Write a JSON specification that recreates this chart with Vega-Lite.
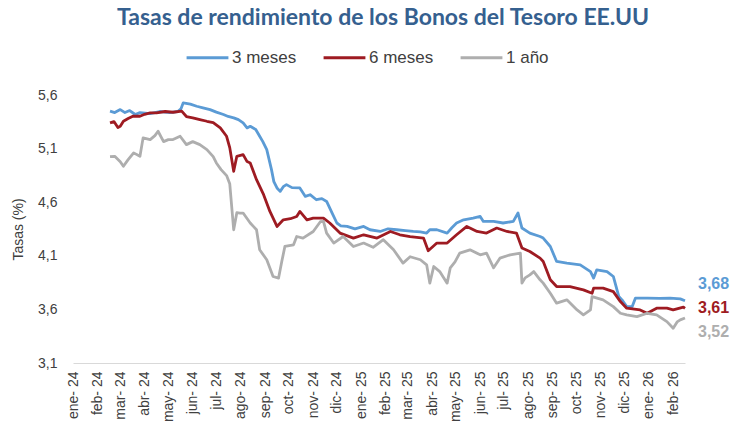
{
  "$schema": "https://vega.github.io/schema/vega-lite/v6.json",
  "width": 612,
  "height": 268,
  "autosize": {"type": "none"},
  "padding": {"left": 73, "top": 95, "right": 47, "bottom": 70},
  "background": "white",
  "title": {
    "text": "Tasas de rendimiento de los Bonos del Tesoro EE.UU",
    "font": "Lato",
    "fontSize": 23,
    "fontWeight": "bold",
    "color": "#35608F",
    "anchor": "middle",
    "frame": "group",
    "offset": 5,
    "dx": 4
  },
  "config": {
    "view": {"stroke": null},
    "font": "Liberation Sans"
  },
  "datasets": {
    "tasas": [
      {"f": "2024-02-17", "s": "3 meses", "v": 5.449},
      {"f": "2024-02-23", "s": "3 meses", "v": 5.436},
      {"f": "2024-03-01", "s": "3 meses", "v": 5.464},
      {"f": "2024-03-07", "s": "3 meses", "v": 5.436},
      {"f": "2024-03-13", "s": "3 meses", "v": 5.455},
      {"f": "2024-03-20", "s": "3 meses", "v": 5.418},
      {"f": "2024-03-26", "s": "3 meses", "v": 5.436},
      {"f": "2024-04-08", "s": "3 meses", "v": 5.427},
      {"f": "2024-04-20", "s": "3 meses", "v": 5.446},
      {"f": "2024-05-03", "s": "3 meses", "v": 5.436},
      {"f": "2024-05-13", "s": "3 meses", "v": 5.446},
      {"f": "2024-05-17", "s": "3 meses", "v": 5.470},
      {"f": "2024-05-20", "s": "3 meses", "v": 5.527},
      {"f": "2024-05-29", "s": "3 meses", "v": 5.515},
      {"f": "2024-06-06", "s": "3 meses", "v": 5.495},
      {"f": "2024-06-14", "s": "3 meses", "v": 5.480},
      {"f": "2024-06-23", "s": "3 meses", "v": 5.464},
      {"f": "2024-07-01", "s": "3 meses", "v": 5.440},
      {"f": "2024-07-10", "s": "3 meses", "v": 5.418},
      {"f": "2024-07-16", "s": "3 meses", "v": 5.400},
      {"f": "2024-07-23", "s": "3 meses", "v": 5.387},
      {"f": "2024-07-29", "s": "3 meses", "v": 5.370},
      {"f": "2024-08-04", "s": "3 meses", "v": 5.340},
      {"f": "2024-08-09", "s": "3 meses", "v": 5.293},
      {"f": "2024-08-13", "s": "3 meses", "v": 5.308},
      {"f": "2024-08-20", "s": "3 meses", "v": 5.278},
      {"f": "2024-08-25", "s": "3 meses", "v": 5.215},
      {"f": "2024-08-29", "s": "3 meses", "v": 5.165},
      {"f": "2024-09-03", "s": "3 meses", "v": 5.091},
      {"f": "2024-09-06", "s": "3 meses", "v": 4.997},
      {"f": "2024-09-09", "s": "3 meses", "v": 4.904},
      {"f": "2024-09-12", "s": "3 meses", "v": 4.792},
      {"f": "2024-09-16", "s": "3 meses", "v": 4.733},
      {"f": "2024-09-20", "s": "3 meses", "v": 4.701},
      {"f": "2024-09-24", "s": "3 meses", "v": 4.745},
      {"f": "2024-09-28", "s": "3 meses", "v": 4.764},
      {"f": "2024-10-05", "s": "3 meses", "v": 4.736},
      {"f": "2024-10-15", "s": "3 meses", "v": 4.733},
      {"f": "2024-10-22", "s": "3 meses", "v": 4.654},
      {"f": "2024-10-28", "s": "3 meses", "v": 4.670},
      {"f": "2024-11-05", "s": "3 meses", "v": 4.623},
      {"f": "2024-11-12", "s": "3 meses", "v": 4.633},
      {"f": "2024-11-18", "s": "3 meses", "v": 4.607},
      {"f": "2024-11-25", "s": "3 meses", "v": 4.499},
      {"f": "2024-12-01", "s": "3 meses", "v": 4.406},
      {"f": "2024-12-06", "s": "3 meses", "v": 4.380},
      {"f": "2024-12-14", "s": "3 meses", "v": 4.374},
      {"f": "2024-12-24", "s": "3 meses", "v": 4.352},
      {"f": "2025-01-04", "s": "3 meses", "v": 4.374},
      {"f": "2025-01-12", "s": "3 meses", "v": 4.343},
      {"f": "2025-01-25", "s": "3 meses", "v": 4.327},
      {"f": "2025-02-04", "s": "3 meses", "v": 4.352},
      {"f": "2025-02-15", "s": "3 meses", "v": 4.343},
      {"f": "2025-02-26", "s": "3 meses", "v": 4.334},
      {"f": "2025-03-08", "s": "3 meses", "v": 4.327},
      {"f": "2025-03-17", "s": "3 meses", "v": 4.324},
      {"f": "2025-03-25", "s": "3 meses", "v": 4.312},
      {"f": "2025-03-29", "s": "3 meses", "v": 4.343},
      {"f": "2025-04-07", "s": "3 meses", "v": 4.343},
      {"f": "2025-04-20", "s": "3 meses", "v": 4.312},
      {"f": "2025-04-26", "s": "3 meses", "v": 4.362},
      {"f": "2025-05-02", "s": "3 meses", "v": 4.406},
      {"f": "2025-05-11", "s": "3 meses", "v": 4.436},
      {"f": "2025-05-23", "s": "3 meses", "v": 4.452},
      {"f": "2025-06-01", "s": "3 meses", "v": 4.467},
      {"f": "2025-06-05", "s": "3 meses", "v": 4.421},
      {"f": "2025-06-18", "s": "3 meses", "v": 4.421},
      {"f": "2025-06-30", "s": "3 meses", "v": 4.406},
      {"f": "2025-07-13", "s": "3 meses", "v": 4.421},
      {"f": "2025-07-19", "s": "3 meses", "v": 4.499},
      {"f": "2025-07-24", "s": "3 meses", "v": 4.359},
      {"f": "2025-08-03", "s": "3 meses", "v": 4.312},
      {"f": "2025-08-16", "s": "3 meses", "v": 4.280},
      {"f": "2025-08-20", "s": "3 meses", "v": 4.265},
      {"f": "2025-08-29", "s": "3 meses", "v": 4.187},
      {"f": "2025-09-06", "s": "3 meses", "v": 4.047},
      {"f": "2025-09-19", "s": "3 meses", "v": 4.032},
      {"f": "2025-10-06", "s": "3 meses", "v": 4.016},
      {"f": "2025-10-19", "s": "3 meses", "v": 3.953},
      {"f": "2025-10-23", "s": "3 meses", "v": 3.892},
      {"f": "2025-10-27", "s": "3 meses", "v": 3.969},
      {"f": "2025-11-09", "s": "3 meses", "v": 3.953},
      {"f": "2025-11-17", "s": "3 meses", "v": 3.907},
      {"f": "2025-11-24", "s": "3 meses", "v": 3.720},
      {"f": "2025-11-28", "s": "3 meses", "v": 3.689},
      {"f": "2025-12-04", "s": "3 meses", "v": 3.626},
      {"f": "2025-12-11", "s": "3 meses", "v": 3.626},
      {"f": "2025-12-15", "s": "3 meses", "v": 3.705},
      {"f": "2025-12-30", "s": "3 meses", "v": 3.705},
      {"f": "2026-01-15", "s": "3 meses", "v": 3.703},
      {"f": "2026-01-28", "s": "3 meses", "v": 3.705},
      {"f": "2026-02-10", "s": "3 meses", "v": 3.698},
      {"f": "2026-02-16", "s": "3 meses", "v": 3.680},

      {"f": "2024-02-17", "s": "6 meses", "v": 5.340},
      {"f": "2024-02-22", "s": "6 meses", "v": 5.352},
      {"f": "2024-02-27", "s": "6 meses", "v": 5.296},
      {"f": "2024-03-01", "s": "6 meses", "v": 5.308},
      {"f": "2024-03-05", "s": "6 meses", "v": 5.355},
      {"f": "2024-03-11", "s": "6 meses", "v": 5.380},
      {"f": "2024-03-17", "s": "6 meses", "v": 5.402},
      {"f": "2024-03-26", "s": "6 meses", "v": 5.402},
      {"f": "2024-04-01", "s": "6 meses", "v": 5.420},
      {"f": "2024-04-08", "s": "6 meses", "v": 5.434},
      {"f": "2024-04-16", "s": "6 meses", "v": 5.434},
      {"f": "2024-04-27", "s": "6 meses", "v": 5.446},
      {"f": "2024-05-07", "s": "6 meses", "v": 5.439},
      {"f": "2024-05-18", "s": "6 meses", "v": 5.449},
      {"f": "2024-05-24", "s": "6 meses", "v": 5.399},
      {"f": "2024-06-01", "s": "6 meses", "v": 5.387},
      {"f": "2024-06-10", "s": "6 meses", "v": 5.371},
      {"f": "2024-06-19", "s": "6 meses", "v": 5.355},
      {"f": "2024-06-27", "s": "6 meses", "v": 5.343},
      {"f": "2024-07-06", "s": "6 meses", "v": 5.293},
      {"f": "2024-07-14", "s": "6 meses", "v": 5.215},
      {"f": "2024-07-18", "s": "6 meses", "v": 5.109},
      {"f": "2024-07-23", "s": "6 meses", "v": 4.888},
      {"f": "2024-07-27", "s": "6 meses", "v": 5.028},
      {"f": "2024-08-04", "s": "6 meses", "v": 5.044},
      {"f": "2024-08-09", "s": "6 meses", "v": 4.979},
      {"f": "2024-08-13", "s": "6 meses", "v": 4.966},
      {"f": "2024-08-21", "s": "6 meses", "v": 4.810},
      {"f": "2024-08-30", "s": "6 meses", "v": 4.670},
      {"f": "2024-09-07", "s": "6 meses", "v": 4.514},
      {"f": "2024-09-16", "s": "6 meses", "v": 4.374},
      {"f": "2024-09-24", "s": "6 meses", "v": 4.436},
      {"f": "2024-10-03", "s": "6 meses", "v": 4.446},
      {"f": "2024-10-11", "s": "6 meses", "v": 4.467},
      {"f": "2024-10-15", "s": "6 meses", "v": 4.514},
      {"f": "2024-10-24", "s": "6 meses", "v": 4.436},
      {"f": "2024-11-01", "s": "6 meses", "v": 4.452},
      {"f": "2024-11-14", "s": "6 meses", "v": 4.452},
      {"f": "2024-11-22", "s": "6 meses", "v": 4.406},
      {"f": "2024-12-05", "s": "6 meses", "v": 4.312},
      {"f": "2024-12-22", "s": "6 meses", "v": 4.265},
      {"f": "2025-01-04", "s": "6 meses", "v": 4.296},
      {"f": "2025-01-21", "s": "6 meses", "v": 4.265},
      {"f": "2025-02-07", "s": "6 meses", "v": 4.327},
      {"f": "2025-02-19", "s": "6 meses", "v": 4.296},
      {"f": "2025-03-04", "s": "6 meses", "v": 4.278},
      {"f": "2025-03-21", "s": "6 meses", "v": 4.265},
      {"f": "2025-03-27", "s": "6 meses", "v": 4.147},
      {"f": "2025-04-07", "s": "6 meses", "v": 4.219},
      {"f": "2025-04-20", "s": "6 meses", "v": 4.219},
      {"f": "2025-05-02", "s": "6 meses", "v": 4.296},
      {"f": "2025-05-15", "s": "6 meses", "v": 4.374},
      {"f": "2025-05-28", "s": "6 meses", "v": 4.327},
      {"f": "2025-06-09", "s": "6 meses", "v": 4.312},
      {"f": "2025-06-22", "s": "6 meses", "v": 4.359},
      {"f": "2025-07-05", "s": "6 meses", "v": 4.327},
      {"f": "2025-07-17", "s": "6 meses", "v": 4.312},
      {"f": "2025-07-24", "s": "6 meses", "v": 4.172},
      {"f": "2025-08-03", "s": "6 meses", "v": 4.140},
      {"f": "2025-08-16", "s": "6 meses", "v": 4.078},
      {"f": "2025-08-20", "s": "6 meses", "v": 4.047},
      {"f": "2025-08-29", "s": "6 meses", "v": 3.876},
      {"f": "2025-09-06", "s": "6 meses", "v": 3.813},
      {"f": "2025-09-23", "s": "6 meses", "v": 3.813},
      {"f": "2025-10-10", "s": "6 meses", "v": 3.782},
      {"f": "2025-10-21", "s": "6 meses", "v": 3.751},
      {"f": "2025-10-23", "s": "6 meses", "v": 3.798},
      {"f": "2025-11-04", "s": "6 meses", "v": 3.798},
      {"f": "2025-11-17", "s": "6 meses", "v": 3.766},
      {"f": "2025-11-26", "s": "6 meses", "v": 3.673},
      {"f": "2025-12-04", "s": "6 meses", "v": 3.611},
      {"f": "2025-12-21", "s": "6 meses", "v": 3.595},
      {"f": "2025-12-30", "s": "6 meses", "v": 3.564},
      {"f": "2026-01-11", "s": "6 meses", "v": 3.611},
      {"f": "2026-01-24", "s": "6 meses", "v": 3.611},
      {"f": "2026-02-01", "s": "6 meses", "v": 3.595},
      {"f": "2026-02-14", "s": "6 meses", "v": 3.621},
      {"f": "2026-02-16", "s": "6 meses", "v": 3.610},

      {"f": "2024-02-17", "s": "1 año", "v": 5.025},
      {"f": "2024-02-23", "s": "1 año", "v": 5.028},
      {"f": "2024-03-01", "s": "1 año", "v": 4.978},
      {"f": "2024-03-05", "s": "1 año", "v": 4.935},
      {"f": "2024-03-11", "s": "1 año", "v": 4.997},
      {"f": "2024-03-18", "s": "1 año", "v": 5.060},
      {"f": "2024-03-26", "s": "1 año", "v": 5.028},
      {"f": "2024-03-30", "s": "1 año", "v": 5.200},
      {"f": "2024-04-08", "s": "1 año", "v": 5.184},
      {"f": "2024-04-14", "s": "1 año", "v": 5.221},
      {"f": "2024-04-18", "s": "1 año", "v": 5.262},
      {"f": "2024-04-25", "s": "1 año", "v": 5.165},
      {"f": "2024-05-01", "s": "1 año", "v": 5.184},
      {"f": "2024-05-07", "s": "1 año", "v": 5.184},
      {"f": "2024-05-16", "s": "1 año", "v": 5.215},
      {"f": "2024-05-24", "s": "1 año", "v": 5.137},
      {"f": "2024-06-01", "s": "1 año", "v": 5.165},
      {"f": "2024-06-10", "s": "1 año", "v": 5.137},
      {"f": "2024-06-19", "s": "1 año", "v": 5.091},
      {"f": "2024-06-27", "s": "1 año", "v": 5.025},
      {"f": "2024-07-01", "s": "1 año", "v": 4.966},
      {"f": "2024-07-07", "s": "1 año", "v": 4.904},
      {"f": "2024-07-14", "s": "1 año", "v": 4.848},
      {"f": "2024-07-18", "s": "1 año", "v": 4.773},
      {"f": "2024-07-23", "s": "1 año", "v": 4.343},
      {"f": "2024-07-27", "s": "1 año", "v": 4.502},
      {"f": "2024-07-31", "s": "1 año", "v": 4.499},
      {"f": "2024-08-04", "s": "1 año", "v": 4.499},
      {"f": "2024-08-13", "s": "1 año", "v": 4.406},
      {"f": "2024-08-17", "s": "1 año", "v": 4.374},
      {"f": "2024-08-21", "s": "1 año", "v": 4.343},
      {"f": "2024-08-25", "s": "1 año", "v": 4.156},
      {"f": "2024-09-03", "s": "1 año", "v": 4.063},
      {"f": "2024-09-11", "s": "1 año", "v": 3.907},
      {"f": "2024-09-18", "s": "1 año", "v": 3.892},
      {"f": "2024-09-22", "s": "1 año", "v": 4.044},
      {"f": "2024-09-26", "s": "1 año", "v": 4.187},
      {"f": "2024-10-07", "s": "1 año", "v": 4.203},
      {"f": "2024-10-11", "s": "1 año", "v": 4.280},
      {"f": "2024-10-19", "s": "1 año", "v": 4.265},
      {"f": "2024-11-01", "s": "1 año", "v": 4.327},
      {"f": "2024-11-10", "s": "1 año", "v": 4.418},
      {"f": "2024-11-14", "s": "1 año", "v": 4.421},
      {"f": "2024-11-18", "s": "1 año", "v": 4.312},
      {"f": "2024-11-27", "s": "1 año", "v": 4.219},
      {"f": "2024-12-09", "s": "1 año", "v": 4.280},
      {"f": "2024-12-22", "s": "1 año", "v": 4.187},
      {"f": "2025-01-04", "s": "1 año", "v": 4.219},
      {"f": "2025-01-16", "s": "1 año", "v": 4.179},
      {"f": "2025-01-29", "s": "1 año", "v": 4.250},
      {"f": "2025-02-11", "s": "1 año", "v": 4.156},
      {"f": "2025-02-23", "s": "1 año", "v": 4.032},
      {"f": "2025-03-04", "s": "1 año", "v": 4.091},
      {"f": "2025-03-17", "s": "1 año", "v": 4.063},
      {"f": "2025-03-25", "s": "1 año", "v": 4.016},
      {"f": "2025-03-29", "s": "1 año", "v": 3.845},
      {"f": "2025-04-03", "s": "1 año", "v": 4.000},
      {"f": "2025-04-11", "s": "1 año", "v": 3.950},
      {"f": "2025-04-20", "s": "1 año", "v": 3.845},
      {"f": "2025-04-24", "s": "1 año", "v": 3.988},
      {"f": "2025-04-30", "s": "1 año", "v": 4.044},
      {"f": "2025-05-06", "s": "1 año", "v": 4.125},
      {"f": "2025-05-19", "s": "1 año", "v": 4.156},
      {"f": "2025-06-01", "s": "1 año", "v": 4.109},
      {"f": "2025-06-09", "s": "1 año", "v": 4.125},
      {"f": "2025-06-18", "s": "1 año", "v": 3.988},
      {"f": "2025-06-26", "s": "1 año", "v": 4.078},
      {"f": "2025-07-09", "s": "1 año", "v": 4.109},
      {"f": "2025-07-22", "s": "1 año", "v": 4.125},
      {"f": "2025-07-24", "s": "1 año", "v": 3.845},
      {"f": "2025-07-28", "s": "1 año", "v": 3.894},
      {"f": "2025-08-03", "s": "1 año", "v": 3.922},
      {"f": "2025-08-08", "s": "1 año", "v": 3.953},
      {"f": "2025-08-16", "s": "1 año", "v": 3.876},
      {"f": "2025-08-20", "s": "1 año", "v": 3.845},
      {"f": "2025-08-29", "s": "1 año", "v": 3.751},
      {"f": "2025-09-06", "s": "1 año", "v": 3.658},
      {"f": "2025-09-19", "s": "1 año", "v": 3.689},
      {"f": "2025-10-02", "s": "1 año", "v": 3.595},
      {"f": "2025-10-10", "s": "1 año", "v": 3.549},
      {"f": "2025-10-19", "s": "1 año", "v": 3.595},
      {"f": "2025-10-21", "s": "1 año", "v": 3.720},
      {"f": "2025-11-04", "s": "1 año", "v": 3.689},
      {"f": "2025-11-17", "s": "1 año", "v": 3.626},
      {"f": "2025-11-26", "s": "1 año", "v": 3.564},
      {"f": "2025-12-04", "s": "1 año", "v": 3.549},
      {"f": "2025-12-17", "s": "1 año", "v": 3.533},
      {"f": "2025-12-30", "s": "1 año", "v": 3.564},
      {"f": "2026-01-11", "s": "1 año", "v": 3.549},
      {"f": "2026-01-24", "s": "1 año", "v": 3.486},
      {"f": "2026-02-01", "s": "1 año", "v": 3.424},
      {"f": "2026-02-06", "s": "1 año", "v": 3.483},
      {"f": "2026-02-10", "s": "1 año", "v": 3.502},
      {"f": "2026-02-16", "s": "1 año", "v": 3.520}
    ],
    "ultimos": [
      {"f": "2026-02-16", "s": "3 meses", "v": 3.68, "t": "3,68"},
      {"f": "2026-02-16", "s": "6 meses", "v": 3.61, "t": "3,61"},
      {"f": "2026-02-16", "s": "1 año", "v": 3.52, "t": "3,52"}
    ]
  },
  "layer": [
    {
      "data": {"name": "tasas"},
      "mark": {"type": "line", "strokeWidth": 2.8, "strokeJoin": "round"},
      "encoding": {
        "x": {
          "field": "f",
          "type": "temporal",
          "scale": {
            "type": "utc",
            "domain": ["2024-01-01T00:00:00Z", "2026-02-16T00:00:00Z"]
          },
          "axis": {
            "title": null,
            "tickCount": {"interval": "month", "step": 1},
            "labelExpr": "['ene','feb','mar','abr','may','jun','jul','ago','sep','oct','nov','dic'][utcmonth(datum.value)] + '- ' + utcFormat(datum.value, '%y')",
            "labelAngle": -90,
            "labelAlign": "right",
            "labelBaseline": "middle",
            "labelFontSize": 14,
            "labelColor": "#404040",
            "labelPadding": 8,
            "labelOverlap": false,
            "labelBound": false,
            "ticks": false,
            "grid": false,
            "domainColor": "#D9D9D9",
            "domainWidth": 1
          }
        },
        "y": {
          "field": "v",
          "type": "quantitative",
          "scale": {"domain": [3.1, 5.6], "nice": false, "zero": false},
          "axis": {
            "title": "Tasas (%)",
            "titleFont": "Liberation Sans",
            "titleFontSize": 14,
            "titleFontWeight": "normal",
            "titleColor": "#404040",
            "titlePadding": 12,
            "values": [3.1, 3.6, 4.1, 4.6, 5.1, 5.6],
            "labelExpr": "replace(format(datum.value, '.1f'), '.', ',')",
            "labelFontSize": 14,
            "labelColor": "#404040",
            "labelPadding": 16,
            "ticks": false,
            "domain": false,
            "grid": false
          }
        },
        "color": {
          "field": "s",
          "type": "nominal",
          "scale": {
            "domain": ["3 meses", "6 meses", "1 año"],
            "range": ["#5B9BD5", "#9E1B22", "#AEAEAE"]
          },
          "legend": {
            "title": null,
            "orient": "none",
            "legendX": 112,
            "legendY": -60,
            "direction": "horizontal",
            "symbolType": "stroke",
            "symbolSize": 1750,
            "symbolStrokeWidth": 3,
            "labelFontSize": 17,
            "labelColor": "#404040",
            "labelOffset": 2,
            "columnPadding": 20
          }
        }
      }
    },
    {
      "data": {"name": "ultimos"},
      "transform": [{"filter": "datum.s == '3 meses'"}],
      "mark": {"type": "text", "align": "left", "baseline": "middle", "dx": 13, "dy": -17, "fontSize": 16, "fontWeight": "bold", "color": "#5B9BD5"},
      "encoding": {
        "x": {"field": "f", "type": "temporal"},
        "y": {"field": "v", "type": "quantitative"},
        "text": {"field": "t"}
      }
    },
    {
      "data": {"name": "ultimos"},
      "transform": [{"filter": "datum.s == '6 meses'"}],
      "mark": {"type": "text", "align": "left", "baseline": "middle", "dx": 13, "dy": 0, "fontSize": 16, "fontWeight": "bold", "color": "#9E1B22"},
      "encoding": {
        "x": {"field": "f", "type": "temporal"},
        "y": {"field": "v", "type": "quantitative"},
        "text": {"field": "t"}
      }
    },
    {
      "data": {"name": "ultimos"},
      "transform": [{"filter": "datum.s == '1 año'"}],
      "mark": {"type": "text", "align": "left", "baseline": "middle", "dx": 13, "dy": 14, "fontSize": 16, "fontWeight": "bold", "color": "#AEAEAE"},
      "encoding": {
        "x": {"field": "f", "type": "temporal"},
        "y": {"field": "v", "type": "quantitative"},
        "text": {"field": "t"}
      }
    }
  ]
}
